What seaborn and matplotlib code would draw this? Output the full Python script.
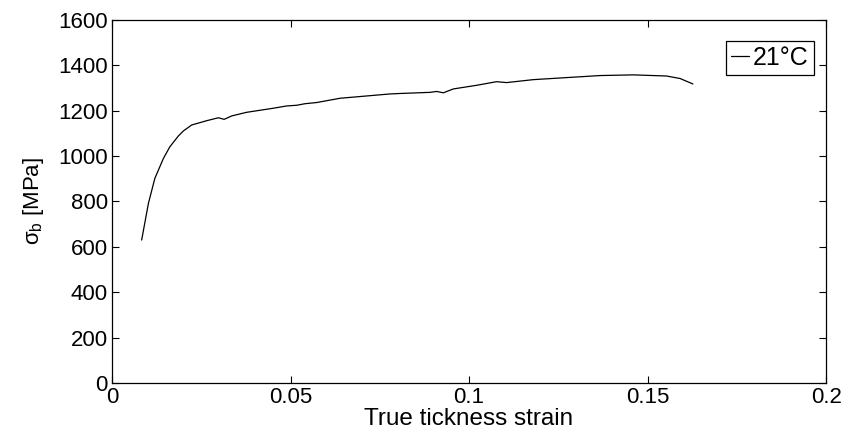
import matplotlib
matplotlib.use("Agg")
import matplotlib.pyplot as plt
import seaborn as sns
import pandas as pd

strain = [0.0083, 0.0102, 0.0120, 0.0144, 0.0162, 0.0186, 0.0200, 0.0223, 0.0265, 0.0298,
          0.0314, 0.0335, 0.0377, 0.0452, 0.0489, 0.0517, 0.0541, 0.0573, 0.0639, 0.0713,
          0.0779, 0.0807, 0.0891, 0.0909, 0.0928, 0.0956, 0.1021, 0.1077, 0.1105, 0.1180,
          0.1273, 0.1367, 0.1460, 0.1553, 0.1591, 0.1627]
stress = [630, 792, 902, 990, 1041, 1089, 1111, 1137, 1156, 1169,
          1162, 1177, 1193, 1211, 1221, 1224, 1231, 1236, 1255, 1265,
          1274, 1276, 1281, 1285, 1279, 1296, 1312, 1328, 1324, 1337,
          1346, 1355, 1358, 1353, 1342, 1318]
series_name = "21°C"
xticks = [0, 0.05, 0.1, 0.15, 0.2]
xtick_labels = ["0", "0.05", "0.1", "0.15", "0.2"]
yticks = [0, 200, 400, 600, 800, 1000, 1200, 1400, 1600]

sns.set_style("ticks")
plt.rcParams['font.family'] = ['Liberation Sans', 'DejaVu Sans']
plt.rcParams['mathtext.fontset'] = 'custom'
plt.rcParams['mathtext.rm'] = 'Liberation Sans'
plt.rcParams['mathtext.it'] = 'Liberation Sans'
plt.rcParams['mathtext.bf'] = 'Liberation Sans:bold'
for k in ['text.color', 'axes.labelcolor', 'xtick.color', 'ytick.color', 'axes.edgecolor']:
    plt.rcParams[k] = 'black'

df = pd.DataFrame({"strain": strain, "stress": stress, "T": series_name})

fig = plt.figure(figsize=(8.65, 4.36), dpi=100)
ax = fig.add_axes([0.1295, 0.1216, 0.8255, 0.8326])
sns.lineplot(data=df, x="strain", y="stress", hue="T", palette=["black"], lw=0.9, ax=ax)

ax.set_xlim(0, 0.2)
ax.set_ylim(0, 1600)
ax.set_xticks(xticks)
ax.set_xticklabels(xtick_labels)
ax.set_yticks(yticks)
ax.tick_params(direction="in", top=True, right=True, labelsize=16, length=5, width=0.8, pad=3,
               colors="black", labelcolor="black")
for s in ax.spines.values():
    s.set_linewidth(0.9)
    s.set_color("black")
ax.set_xlabel("True tickness strain", fontsize=17.5, labelpad=0, color="black")
ax.set_ylabel(r"$\mathrm{\sigma_b}$ [MPa]", fontsize=16, labelpad=9, color="black")

leg = ax.legend(loc="upper right", bbox_to_anchor=(0.983, 0.942), fontsize=18,
                handlelength=0.75, handletextpad=0.15,
                borderpad=0.2, borderaxespad=0.0, fancybox=False, framealpha=1,
                edgecolor="black", title=None)
leg.get_frame().set_linewidth(0.9)
for t in leg.get_texts():
    t.set_color("black")

fig.savefig("out.png", dpi=100)
